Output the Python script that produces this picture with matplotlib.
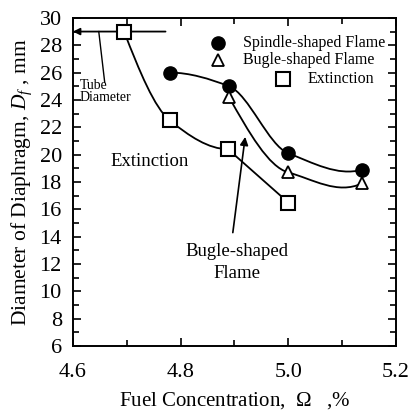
import numpy as np
import matplotlib
matplotlib.use("Agg")
import matplotlib.pyplot as plt
from matplotlib.path import Path
from matplotlib.patches import PathPatch
from matplotlib.ticker import MultipleLocator

plt.rcParams['font.family'] = ['Liberation Serif', 'DejaVu Serif']
plt.rcParams['mathtext.fontset'] = 'custom'
plt.rcParams['mathtext.it'] = 'Liberation Serif:italic'
plt.rcParams['mathtext.rm'] = 'Liberation Serif'

# Data
spindle_x = [4.78, 4.89, 5.00, 5.137]
spindle_y = [26.0, 25.0, 20.1, 18.9]
bugle_x = [4.89, 5.00, 5.137]
bugle_y = [24.2, 18.7, 17.9]
ext_x = [4.695, 4.78, 4.888, 5.00]
ext_y = [29.0, 22.5, 20.4, 16.5]
tube_diameter = 29.0

fig = plt.figure(figsize=(4.12, 4.16), dpi=100)
ax = fig.add_axes([0.177, 0.168, 0.784, 0.789])


def slopes(xs, ys, start_free=True, end_free=True):
    h = np.diff(xs)
    d = np.diff(ys) / h
    n = len(xs)
    m = np.zeros(n)
    for k in range(1, n - 1):
        if d[k - 1] * d[k] > 0:
            w1 = 2 * h[k] + h[k - 1]
            w2 = h[k] + 2 * h[k - 1]
            m[k] = (w1 + w2) / (w1 / d[k - 1] + w2 / d[k])
    if n == 2:
        m[:] = d[0]
    else:
        s0 = ((2 * h[0] + h[1]) * d[0] - h[0] * d[1]) / (h[0] + h[1])
        s1 = ((2 * h[-1] + h[-2]) * d[-1] - h[-1] * d[-2]) / (h[-1] + h[-2])
        if not start_free and s0 * d[0] <= 0:
            s0 = 0.0
        if not end_free and s1 * d[-1] <= 0:
            s1 = 0.0
        m[0], m[-1] = s0, s1
    return m


def smooth_curve(ax, xs, ys, start_free=True, end_free=True, **kw):
    xs = np.asarray(xs, float)
    ys = np.asarray(ys, float)
    m = slopes(xs, ys, start_free, end_free)
    verts = [(xs[0], ys[0])]
    codes = [Path.MOVETO]
    for i in range(len(xs) - 1):
        h = xs[i + 1] - xs[i]
        verts += [(xs[i] + h / 3, ys[i] + m[i] * h / 3),
                  (xs[i + 1] - h / 3, ys[i + 1] - m[i + 1] * h / 3),
                  (xs[i + 1], ys[i + 1])]
        codes += [Path.CURVE4] * 3
    ax.add_patch(PathPatch(Path(verts, codes), fill=False, **kw))


lw = 1.3
smooth_curve(ax, spindle_x, spindle_y, start_free=False, end_free=True,
             color='black', lw=lw)
smooth_curve(ax, bugle_x, bugle_y, color='black', lw=lw)
smooth_curve(ax, ext_x[:3], ext_y[:3], start_free=True, end_free=False,
             color='black', lw=lw)
ax.plot(ext_x[2:], ext_y[2:], color='black', lw=lw)

ax.plot(spindle_x, spindle_y, 'o', color='black', ms=9.5, zorder=5)
ax.plot(bugle_x, bugle_y, '^', mfc='white', mec='black', mew=1.3, ms=8.5, zorder=5)
ax.plot(ext_x, ext_y, 's', mfc='white', mec='black', mew=1.5, ms=10, zorder=5)

# tube diameter line + arrow
ax.annotate('', xy=(4.6, tube_diameter), xytext=(4.772, tube_diameter),
            arrowprops=dict(arrowstyle='-|>', color='black', lw=1.3,
                            mutation_scale=10, shrinkA=0, shrinkB=0))
ax.plot([4.648, 4.659], [tube_diameter, 25.3], color='black', lw=1.0)
ax.text(4.613, 24.6, 'Tube\nDiameter', fontsize=10, ha='left', va='center',
        linespacing=0.95)

ax.text(4.743, 19.5, 'Extinction', fontsize=13.5, ha='center', va='center')
ax.annotate('', xy=(4.92, 21.3), xytext=(4.897, 14.3),
            arrowprops=dict(arrowstyle='-|>', color='black', lw=1.2,
                            mutation_scale=12, shrinkA=0, shrinkB=0))
ax.text(4.905, 12.1, 'Bugle-shaped\nFlame', fontsize=13.5, ha='center',
        va='center', linespacing=1.4)

# legend (manual)
ax.plot([0.449], [0.924], 'o', color='black', ms=9.5, transform=ax.transAxes,
        clip_on=False)
ax.plot([0.449], [0.871], '^', mfc='white', mec='black', mew=1.3, ms=8.5,
        transform=ax.transAxes, clip_on=False)
ax.plot([0.65], [0.814], 's', mfc='white', mec='black', mew=1.5, ms=10,
        transform=ax.transAxes, clip_on=False)
ax.text(0.526, 0.924, 'Spindle-shaped Flame', fontsize=11.5,
        transform=ax.transAxes, va='center', ha='left')
ax.text(0.526, 0.871, 'Bugle-shaped Flame', fontsize=11.5,
        transform=ax.transAxes, va='center', ha='left')
ax.text(0.728, 0.814, 'Extinction', fontsize=11.5,
        transform=ax.transAxes, va='center', ha='left')

ax.set_xlim(4.6, 5.2)
ax.set_ylim(6, 30)
ax.set_xticks([4.6, 4.8, 5.0, 5.2])
ax.set_xticklabels(['4.6', '4.8', '5.0', '5.2'])
ax.xaxis.set_minor_locator(MultipleLocator(0.1))
ax.set_yticks(np.arange(6, 31, 2))
ax.yaxis.set_minor_locator(MultipleLocator(1))
ax.tick_params(which='both', direction='in', top=True, right=True,
               labelsize=16, width=1.2)
ax.tick_params(which='major', length=6)
ax.tick_params(axis='x', which='major', pad=12)
ax.tick_params(axis='y', which='major', pad=8)
ax.tick_params(which='minor', length=4)
for s in ax.spines.values():
    s.set_linewidth(1.4)

ax.set_xlabel(r'Fuel Concentration,  $\mathit{\Omega}$   ,%', fontsize=15,
              labelpad=6)
ax.set_ylabel(r'Diameter of Diaphragm, $D_f$ , mm', fontsize=15.5, labelpad=4)

fig.savefig('out.png', dpi=100)
